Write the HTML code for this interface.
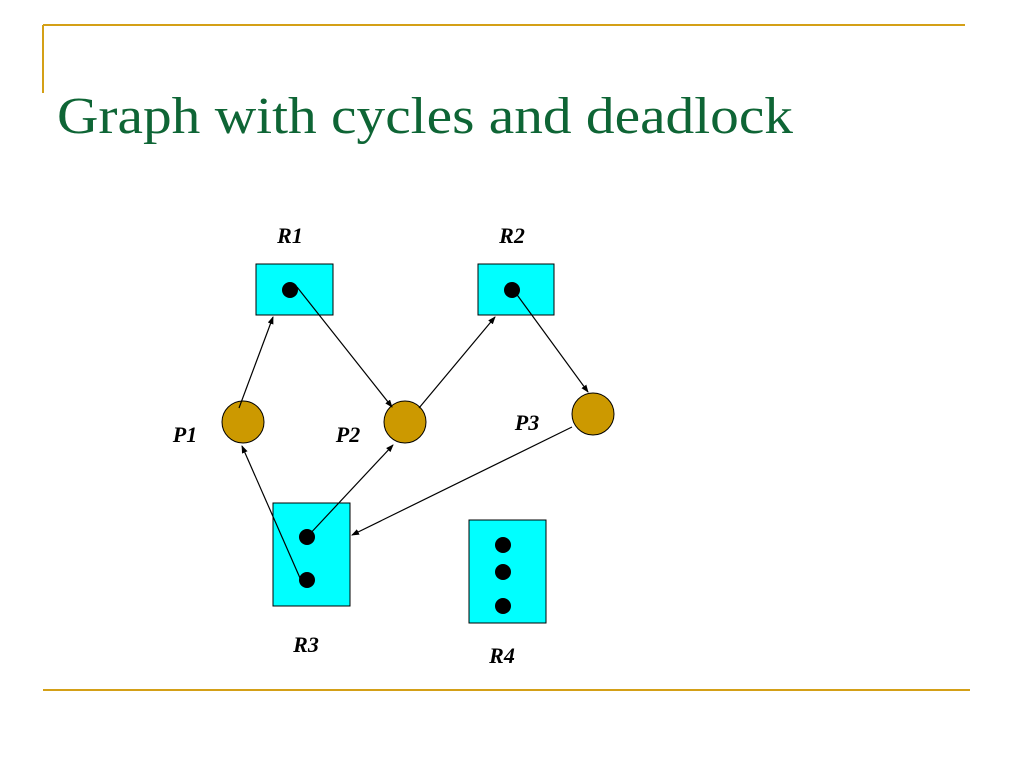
<!DOCTYPE html>
<html><head><meta charset="utf-8"><style>html,body{margin:0;padding:0;background:#fff}svg{display:block}</style></head>
<body>
<svg width="1024" height="768" viewBox="0 0 1024 768" xmlns="http://www.w3.org/2000/svg">
<defs><marker id="a" markerWidth="8" markerHeight="8" refX="7" refY="3" orient="auto" markerUnits="userSpaceOnUse"><path d="M0,0 L8,3 L0,6 z" fill="#000"/></marker></defs>
<line x1="43" y1="25" x2="965" y2="25" stroke="#d4a017" stroke-width="2"/>
<line x1="43" y1="25" x2="43" y2="93" stroke="#d4a017" stroke-width="2"/>
<line x1="43" y1="690" x2="970" y2="690" stroke="#d4a017" stroke-width="2"/>
<text x="57" y="133" font-family="Liberation Serif, serif" font-size="52" fill="#0e6535" textLength="736" lengthAdjust="spacingAndGlyphs">Graph with cycles and deadlock</text>
<g fill="#00ffff" stroke="#000" stroke-width="1">
<rect x="256" y="264" width="77" height="51"/>
<rect x="478" y="264" width="76" height="51"/>
<rect x="273" y="503" width="77" height="103"/>
<rect x="469" y="520" width="77" height="103"/>
</g>
<g fill="#000">
<circle cx="290" cy="290" r="8"/><circle cx="512" cy="290" r="8"/>
<circle cx="307" cy="537" r="8"/><circle cx="307" cy="580" r="8"/>
<circle cx="503" cy="545" r="8"/><circle cx="503" cy="572" r="8"/><circle cx="503" cy="606" r="8"/>
</g>
<g fill="#cc9900" stroke="#000" stroke-width="1">
<circle cx="243" cy="422" r="21"/><circle cx="405" cy="422" r="21"/><circle cx="593" cy="414" r="21"/>
</g>
<g stroke="#000" stroke-width="1.2" marker-end="url(#a)">
<line x1="239" y1="408" x2="273" y2="317"/>
<line x1="297" y1="287" x2="392" y2="407"/>
<line x1="419" y1="408" x2="495" y2="317"/>
<line x1="515" y1="292" x2="588" y2="392"/>
<line x1="572" y1="427" x2="352" y2="535"/>
<line x1="307" y1="537" x2="393" y2="445"/>
<line x1="300" y1="578" x2="242" y2="446"/>
</g>
<g font-family="Liberation Serif, serif" font-size="22" font-weight="bold" font-style="italic" fill="#000" text-anchor="middle">
<text x="290" y="243">R1</text><text x="512" y="243">R2</text>
<text x="185" y="442">P1</text><text x="348" y="442">P2</text><text x="527" y="430">P3</text>
<text x="306" y="652">R3</text><text x="502" y="663">R4</text>
</g>
</svg>
</body></html>
